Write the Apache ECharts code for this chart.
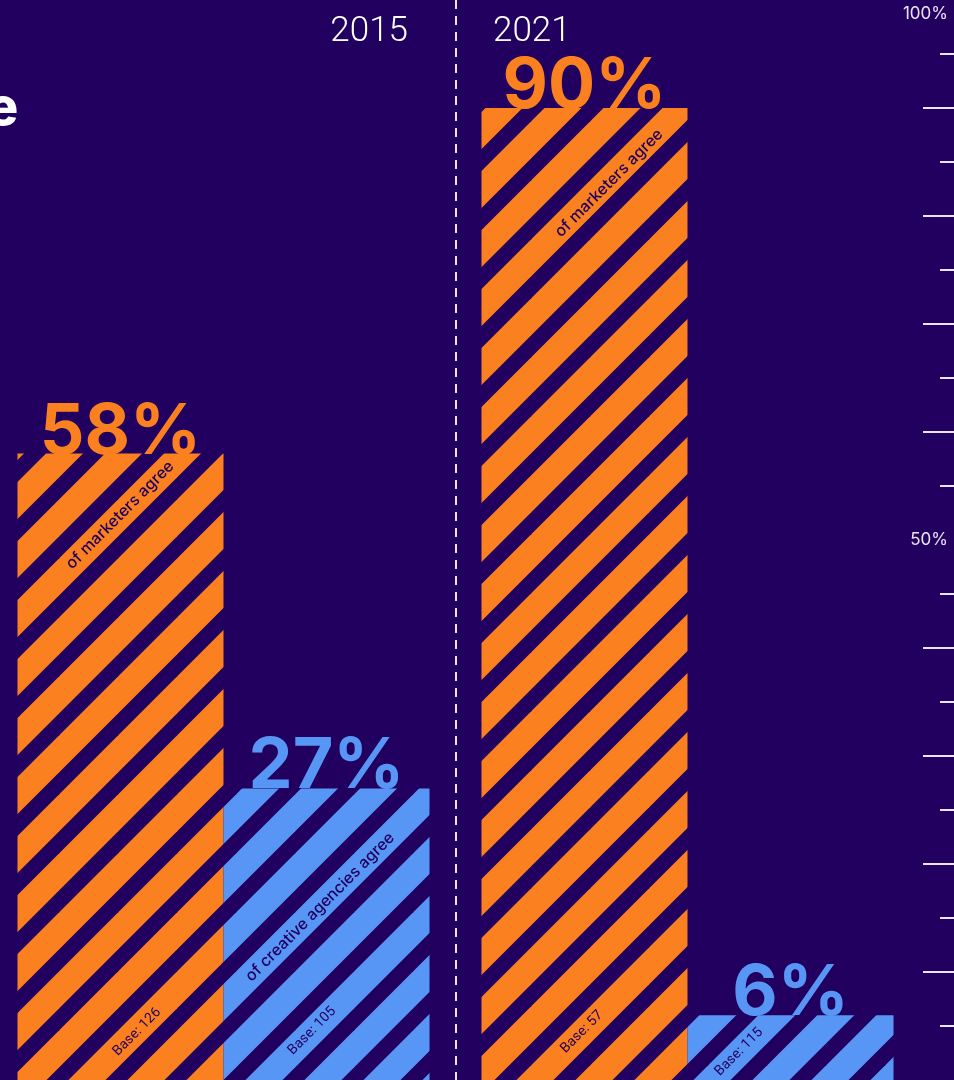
<!DOCTYPE html>
<html>
<head>
<meta charset="utf-8">
<script src="https://cdn.jsdelivr.net/npm/echarts@6/dist/echarts.min.js"></script>
<style>
  html, body { margin: 0; padding: 0; background: #22005F; }
  #chart { width: 954px; height: 1080px; }
</style>
</head>
<body>
<div id="chart"></div>
<script>
// ---- data ----
const categories = ['2015', '2021'];
const marketersAgree = [58, 90];
const agenciesAgree = [27, 6];
const marketersBase = [126, 57];
const agenciesBase = [105, 115];
const marketersCaption = 'of marketers agree';
const agenciesCaption = 'of creative agencies agree';
const axisLabelValues = [50, 100];
const majorTickValues = [10, 20, 30, 40, 60, 70, 80, 90];
const minorTickValues = [5, 15, 25, 35, 45, 55, 65, 75, 85, 95];
const labelAnchor = [0, 0]; // zero-height carriers for the in-bar texts

// ---- styles / layout ----
const BG = '#22005F';
const ORANGE = '#FB801F';
const BLUE = '#5896F5';
const INK = '#22005F';
const LIGHT = '#ECE4F6';
const stripePhase = [46, 22];          // per category
const BAR_W = 206;
const capPos = { m: [[102.5, 61.4], [127.5, 75]], a: [[96.5, 118.6], null] };
const basePos = { m: [[119.5, -48], [100.5, -48]], a: [[88.5, -49], [51.5, -28]] };

function stripes(color, phase) {
  const P = 59;
  const c = document.createElement('canvas');
  c.width = P; c.height = P;
  const ctx = c.getContext('2d');
  ctx.fillStyle = BG;
  ctx.fillRect(0, 0, P, P);
  ctx.strokeStyle = color;
  ctx.lineWidth = 37 / Math.SQRT2;
  for (let k = -3; k <= 3; k++) {
    const d = phase + k * P;
    ctx.beginPath();
    ctx.moveTo(d + 2 * P, -2 * P);
    ctx.lineTo(-2 * P, d + 2 * P);
    ctx.stroke();
  }
  return { image: c, repeat: 'repeat' };
}

function groupSeries(key, values, bases, caption, color, stack) {
  const common = { type: 'bar', stack: stack, barWidth: BAR_W, barGap: '0%', stackStrategy: 'all' };
  const baseSeries = Object.assign({}, common, {
    name: key + '-base', z: 4,
    itemStyle: { color: 'transparent' },
    data: labelAnchor.map((v, i) => ({
      value: v,
      label: {
        show: true, position: basePos[key][i], align: 'center', verticalAlign: 'middle',
        rotate: 45, formatter: 'Base: ' + bases[i],
        fontFamily: 'Roboto', fontSize: 14, color: INK
      }
    }))
  });
  const mainSeries = Object.assign({}, common, {
    name: key, z: 2,
    data: values.map((v, i) => ({
      value: v,
      itemStyle: { color: stripes(color, stripePhase[i]) },
      label: {
        show: true, position: ['50%', -21], align: 'center', verticalAlign: 'middle',
        formatter: '{c}%', fontFamily: 'Inter', fontWeight: 700, fontSize: 70, color: color
      }
    }))
  });
  const capSeries = Object.assign({}, common, {
    name: key + '-cap', z: 4,
    itemStyle: { color: 'transparent' },
    data: labelAnchor.map((v, i) => ({
      value: v,
      label: capPos[key][i] ? {
        show: true, position: capPos[key][i], align: 'center', verticalAlign: 'middle',
        rotate: 45, formatter: caption,
        fontFamily: 'Inter', fontWeight: 500, fontSize: 16, color: INK
      } : { show: false }
    }))
  });
  return [baseSeries, mainSeries, capSeries];
}

const chart = echarts.init(document.getElementById('chart'), null, { renderer: 'canvas' });
chart.setOption({
  backgroundColor: BG,
  animation: false,
  title: [
    { text: '2015', right: 546, top: 15, padding: 0,
      textStyle: { color: '#FFFFFF', fontFamily: 'Roboto', fontWeight: 300, fontSize: 35 } },
    { text: '2021', left: 493, top: 15, padding: 0,
      textStyle: { color: '#FFFFFF', fontFamily: 'Roboto', fontWeight: 300, fontSize: 35 } }
  ],
  graphic: [
    { type: 'text', x: -13, y: 109,
      style: { text: 'e', fill: '#FFFFFF', font: '800 52px Inter', verticalAlign: 'middle' } }
  ],
  grid: { left: -8.5, right: 34.5, top: 0, bottom: 0, outerBoundsMode: 'none', containLabel: false },
  xAxis: {
    type: 'category', data: categories,
    axisLine: { show: false }, axisTick: { show: false }, axisLabel: { show: false },
    splitLine: { show: true, showMinLine: false, showMaxLine: false,
      lineStyle: { color: LIGHT, width: 2, type: [9, 7] } }
  },
  yAxis: [
    {
      type: 'value', min: 0, max: 100, position: 'right', offset: 34.5,
      axisLine: { show: false }, splitLine: { show: false },
      axisTick: { show: true, inside: true, length: 31, customValues: majorTickValues,
        lineStyle: { color: LIGHT, width: 2 } },
      axisLabel: {
        show: true, inside: true, margin: 6, customValues: axisLabelValues,
        color: LIGHT, fontFamily: 'Inter', fontSize: 17, fontWeight: 400,
        formatter: v => v === 100 ? '{t|100%}' : '{n|' + v + '%}',
        rich: {
          t: { padding: [28, 0, 0, 0], color: LIGHT, fontFamily: 'Inter', fontSize: 17 },
          n: { color: LIGHT, fontFamily: 'Inter', fontSize: 17 }
        }
      }
    },
    {
      type: 'value', min: 0, max: 100, position: 'right', offset: 34.5,
      axisLine: { show: false }, splitLine: { show: false }, axisLabel: { show: false },
      axisTick: { show: true, inside: true, length: 14, customValues: minorTickValues,
        lineStyle: { color: LIGHT, width: 2 } }
    }
  ],
  series: [
    ...groupSeries('m', marketersAgree, marketersBase, marketersCaption, ORANGE, 'm'),
    ...groupSeries('a', agenciesAgree, agenciesBase, agenciesCaption, BLUE, 'a')
  ]
});
</script>
</body>
</html>
